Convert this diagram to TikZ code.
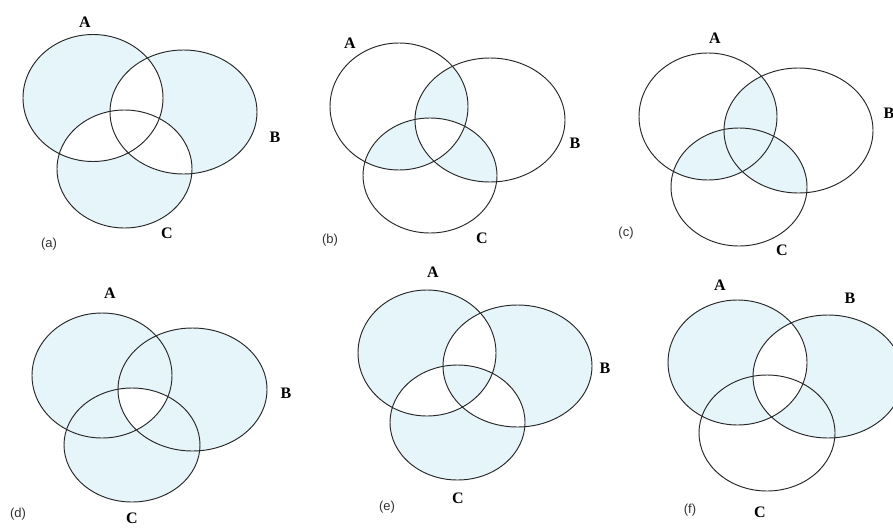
\documentclass[tikz,border=0pt]{standalone}
\usepackage{fontspec}
\setmainfont{Liberation Serif}
\newfontfamily\tagfont{Liberation Sans}
\definecolor{vennfill}{RGB}{230,245,250}
\definecolor{vennline}{RGB}{40,40,40}
\tikzset{
  vfill/.style={fill=vennfill},
  vwhite/.style={fill=white},
  vline/.style={draw=vennline,line width=0.95pt},
  setlab/.style={font=\fontsize{16}{16}\selectfont\bfseries,inner sep=0pt},
  tag/.style={font=\tagfont\fontsize{13}{13}\selectfont,inner sep=0pt,text=black!80}
}
% fill #2 restricted to #1 with style #3
\newcommand{\vtwo}[3]{\begin{scope}\clip #1; \fill[#3] #2;\end{scope}}
% fill #3 restricted to #1 and #2 with style #4
\newcommand{\vthree}[4]{\begin{scope}\clip #1; \clip #2; \fill[#4] #3;\end{scope}}
\newcommand{\vout}{\draw[vline] \pA; \draw[vline] \pB; \draw[vline] \pC;}
\begin{document}
\begin{tikzpicture}[x=1pt,y=-1pt]
\clip (0,0) rectangle (893,527);
\fill[white] (0,0) rectangle (893,527);

% ---------- (a) exactly one ----------
\def\pA{(93,98) ellipse [x radius=70pt, y radius=63.5pt]}
\def\pB{(183.5,112) ellipse [x radius=73.5pt, y radius=62pt]}
\def\pC{(124.5,169) ellipse [x radius=67.5pt, y radius=59pt]}
\fill[vfill] \pA; \fill[vfill] \pB; \fill[vfill] \pC;
\vtwo{\pA}{\pB}{vwhite} \vtwo{\pA}{\pC}{vwhite} \vtwo{\pB}{\pC}{vwhite}
\vout
\node[setlab] (aA) at (85,22) {A};
\node[setlab] (aB) at (275,137) {B};
\node[setlab] (aC) at (167,233) {C};
\node[tag] (aT) at (49,244) {(a)};

% ---------- (b) exactly two ----------
\def\pA{(399,106.5) ellipse [x radius=69pt, y radius=63.5pt]}
\def\pB{(490,120) ellipse [x radius=75pt, y radius=62pt]}
\def\pC{(430,175.5) ellipse [x radius=67pt, y radius=57.5pt]}
\vtwo{\pA}{\pB}{vfill} \vtwo{\pA}{\pC}{vfill} \vtwo{\pB}{\pC}{vfill}
\vthree{\pA}{\pB}{\pC}{vwhite}
\vout
\node[setlab] (bA) at (350,43) {A};
\node[setlab] (bB) at (575,143) {B};
\node[setlab] (bC) at (482,238) {C};
\node[tag] (bT) at (330,240) {(b)};

% ---------- (c) at least two ----------
\def\pA{(708,116.5) ellipse [x radius=69pt, y radius=63.5pt]}
\def\pB{(798.5,130.5) ellipse [x radius=74.5pt, y radius=62.5pt]}
\def\pC{(739,187) ellipse [x radius=68pt, y radius=59pt]}
\vtwo{\pA}{\pB}{vfill} \vtwo{\pA}{\pC}{vfill} \vtwo{\pB}{\pC}{vfill}
\vout
\node[setlab] (cA) at (715,38) {A};
\node[setlab] (cB) at (889,113) {B};
\node[setlab] (cC) at (782,250) {C};
\node[tag] (cT) at (626,233) {(c)};

% ---------- (d) union minus triple ----------
\def\pA{(102,375.5) ellipse [x radius=70pt, y radius=62.5pt]}
\def\pB{(192.5,389.5) ellipse [x radius=74.5pt, y radius=61.5pt]}
\def\pC{(132,445) ellipse [x radius=68pt, y radius=57pt]}
\fill[vfill] \pA; \fill[vfill] \pB; \fill[vfill] \pC;
\vthree{\pA}{\pB}{\pC}{vwhite}
\vout
\node[setlab] (dA) at (110,293) {A};
\node[setlab] (dB) at (286,393) {B};
\node[setlab] (dC) at (132,518) {C};
\node[tag] (dT) at (18,514) {(d)};

% ---------- (e) odd count ----------
\def\pA{(427,353) ellipse [x radius=69pt, y radius=63pt]}
\def\pB{(517.5,366) ellipse [x radius=74.5pt, y radius=61pt]}
\def\pC{(457.5,422.5) ellipse [x radius=67.5pt, y radius=57.5pt]}
\fill[vfill] \pA; \fill[vfill] \pB; \fill[vfill] \pC;
\vtwo{\pA}{\pB}{vwhite} \vtwo{\pA}{\pC}{vwhite} \vtwo{\pB}{\pC}{vwhite}
\vthree{\pA}{\pB}{\pC}{vfill}
\vout
\node[setlab] (eA) at (433,272) {A};
\node[setlab] (eB) at (605,368) {B};
\node[setlab] (eC) at (458,498) {C};
\node[tag] (eT) at (387,507) {(e)};

% ---------- (f) A xor B ----------
\def\pA{(737.5,362.5) ellipse [x radius=69.5pt, y radius=62.5pt]}
\def\pB{(828,376.5) ellipse [x radius=75pt, y radius=61.5pt]}
\def\pC{(767,433) ellipse [x radius=68pt, y radius=58pt]}
\fill[vfill] \pA; \fill[vfill] \pB;
\vtwo{\pA}{\pB}{vwhite}
\vout
\node[setlab] (fA) at (720,285) {A};
\node[setlab] (fB) at (850,298) {B};
\node[setlab] (fC) at (760,512) {C};
\node[tag] (fT) at (690,510) {(f)};
\end{tikzpicture}
\end{document}
